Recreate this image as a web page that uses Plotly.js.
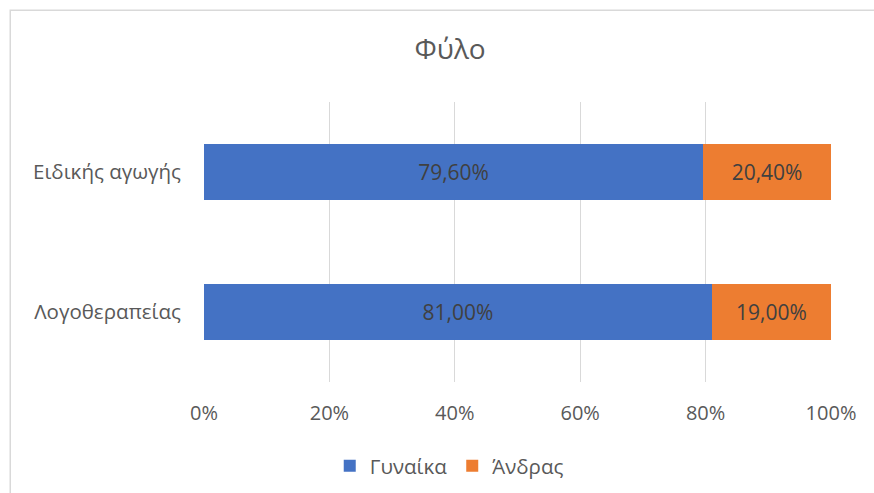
<!DOCTYPE html>
<html>
<head>
<meta charset="utf-8">
<script src="https://cdn.plot.ly/plotly-3.0.1.min.js"></script>
<style>
  html, body { margin: 0; padding: 0; background: #fff; }
  #chart { width: 874px; height: 493px; }
</style>
</head>
<body>
<div id="chart"></div>
<script>
// Specialty categories (first one is drawn at the bottom)
const categories = ["Λογοθεραπείας", "Ειδικής αγωγής"];
// Share of each gender per specialty, in percent
const women = [81.00, 79.60];
const men = [19.00, 20.40];
const tickValues = [0, 20, 40, 60, 80, 100];
const tickLabels = ["0%", "20%", "40%", "60%", "80%", "100%"];

const font = "'Open Sans', 'Noto Sans', sans-serif";

const traces = [
  {
    type: "bar", orientation: "h", name: "Γυναίκα",
    y: categories, x: women,
    marker: { color: "#4472c4", line: { width: 0 } },
    texttemplate: "%{x:.2f}%", textposition: "inside", insidetextanchor: "middle",
    textfont: { color: "#404040", size: 21, family: font },
    hoverinfo: "x+name"
  },
  {
    type: "bar", orientation: "h", name: "Άνδρας",
    y: categories, x: men,
    marker: { color: "#ed7d31", line: { width: 0 } },
    texttemplate: "%{x:.2f}%", textposition: "inside", insidetextanchor: "middle",
    textfont: { color: "#404040", size: 21, family: font },
    hoverinfo: "x+name"
  }
];

const layout = {
  width: 874, height: 493,
  paper_bgcolor: "#ffffff", plot_bgcolor: "#ffffff",
  separators: ",.",
  margin: { l: 204, r: 43, t: 102, b: 111 },
  font: { family: font, color: "#595959" },
  title: {
    text: "Φύλο",
    font: { family: font, size: 28, color: "#595959" },
    x: 0.515, xanchor: "center", y: 0.9, yanchor: "middle"
  },
  barmode: "stack",
  bargap: 0.6,
  showlegend: true,
  legend: {
    orientation: "h", xref: "container", x: 0.514, xanchor: "center",
    yref: "container", y: 0.055, yanchor: "middle",
    font: { family: font, size: 20.5, color: "#595959" },
    itemwidth: 30, traceorder: "normal"
  },
  xaxis: {
    range: [0, 100], tickvals: tickValues, ticktext: tickLabels,
    showgrid: true, gridcolor: "#d9d9d9", gridwidth: 1,
    zeroline: false, showline: false, ticks: "",
    ticklabelstandoff: 17,
    tickfont: { family: font, size: 20, color: "#595959" },
    fixedrange: true
  },
  yaxis: {
    type: "category", categoryorder: "array", categoryarray: categories,
    showgrid: false, zeroline: false, showline: false, ticks: "",
    ticklabelstandoff: 22,
    tickfont: { family: font, size: 20.5, color: "#595959" },
    fixedrange: true
  },
  shapes: [
    {
      type: "rect", xref: "paper", yref: "paper",
      x0: -0.309, x1: 1.2, y0: -0.5, y1: 1.328,
      line: { color: "#d9d9d9", width: 1.5 }, fillcolor: "rgba(0,0,0,0)",
      layer: "below"
    }
  ]
};

Plotly.newPlot("chart", traces, layout, { displayModeBar: false, staticPlot: true });
</script>
</body>
</html>
